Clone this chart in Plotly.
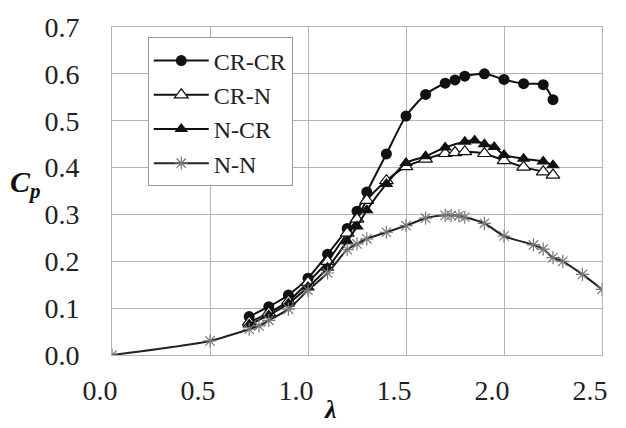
import plotly.graph_objects as go

# ---- data ----
crcr_x = [0.70, 0.80, 0.90, 1.00, 1.10, 1.20, 1.25, 1.30, 1.40, 1.50, 1.60, 1.70, 1.75, 1.80, 1.90, 2.00, 2.10, 2.20, 2.25]
crcr_y = [0.082, 0.103, 0.128, 0.164, 0.215, 0.270, 0.307, 0.348, 0.429, 0.510, 0.556, 0.580, 0.587, 0.595, 0.600, 0.588, 0.579, 0.577, 0.545]

crn_x = [0.70, 0.80, 0.90, 1.00, 1.10, 1.20, 1.25, 1.30, 1.40, 1.50, 1.60, 1.70, 1.75, 1.80, 1.90, 2.00, 2.10, 2.20, 2.25]
crn_y = [0.070, 0.090, 0.115, 0.155, 0.200, 0.260, 0.290, 0.330, 0.372, 0.402, 0.418, 0.430, 0.432, 0.434, 0.430, 0.415, 0.401, 0.391, 0.384]

ncr_x = [0.70, 0.80, 0.90, 1.00, 1.10, 1.20, 1.25, 1.30, 1.40, 1.50, 1.60, 1.70, 1.80, 1.85, 1.90, 1.95, 2.00, 2.10, 2.20, 2.25]
ncr_y = [0.065, 0.085, 0.110, 0.145, 0.186, 0.243, 0.274, 0.309, 0.365, 0.410, 0.424, 0.443, 0.455, 0.458, 0.450, 0.444, 0.427, 0.419, 0.413, 0.405]

nn_x = [0.00, 0.50, 0.70, 0.75, 0.80, 0.90, 1.00, 1.10, 1.20, 1.25, 1.30, 1.40, 1.50, 1.60, 1.70, 1.73, 1.77, 1.80, 1.90, 2.00, 2.15, 2.20, 2.25, 2.30, 2.40, 2.50]
nn_y = [0.000, 0.030, 0.055, 0.062, 0.074, 0.098, 0.138, 0.175, 0.225, 0.237, 0.248, 0.262, 0.276, 0.292, 0.298, 0.298, 0.297, 0.294, 0.281, 0.254, 0.235, 0.226, 0.208, 0.200, 0.172, 0.140]

x_ticks = [0.0, 0.5, 1.0, 1.5, 2.0, 2.5]
y_ticks = [0.0, 0.1, 0.2, 0.3, 0.4, 0.5, 0.6, 0.7]

FONT = "Liberation Serif, Times New Roman, Times, serif"
line_shape = dict(shape="spline", smoothing=0.7, width=2)

fig = go.Figure()
fig.add_trace(go.Scatter(x=crcr_x, y=crcr_y, name="CR-CR", mode="lines+markers",
                         line=dict(color="#111111", **line_shape),
                         marker=dict(symbol="circle", size=11, color="#111111")))
fig.add_trace(go.Scatter(x=crn_x, y=crn_y, name="CR-N", mode="lines+markers",
                         line=dict(color="#111111", **line_shape),
                         marker=dict(symbol="triangle-up", size=12, color="white",
                                     line=dict(color="#111111", width=1.2))))
fig.add_trace(go.Scatter(x=ncr_x, y=ncr_y, name="N-CR", mode="lines+markers",
                         line=dict(color="#111111", **line_shape),
                         marker=dict(symbol="triangle-up", size=12, color="#111111")))
fig.add_trace(go.Scatter(x=nn_x, y=nn_y, name="N-N", mode="lines+markers",
                         line=dict(color="#222222", **line_shape),
                         marker=dict(symbol="asterisk-open", size=11, color="#777777",
                                     line=dict(color="#777777", width=1.2))))

axis_common = dict(showgrid=True, gridcolor="#b4b4b4", gridwidth=1,
                   zeroline=False, showline=True, linecolor="#b4b4b4", linewidth=1,
                   ticks="", tickfont=dict(family=FONT, size=28, color="#222222"),
                   mirror=True, tickformat=".1f")

fig.update_layout(
    width=626, height=428,
    margin=dict(l=112, r=24, t=23, b=73),
    paper_bgcolor="white", plot_bgcolor="white",
    xaxis=dict(range=[0, 2.5], tickvals=x_ticks, ticklabelstandoff=10,
               ticklabelshift=-12, **axis_common),
    yaxis=dict(range=[0, 0.7], tickvals=y_ticks, ticklabelstandoff=26, **axis_common),
    showlegend=True,
    legend=dict(x=0.073, y=0.968, xanchor="left", yanchor="top",
                bgcolor="white", bordercolor="#999999", borderwidth=1,
                font=dict(family=FONT, size=24, color="#222222"),
                itemwidth=55, tracegroupgap=0, itemsizing="trace",
                entrywidth=112),
    font=dict(family=FONT),
)

fig.add_annotation(xref="paper", yref="paper", x=-0.14, y=0.52,
                   text="<b><i>C</i></b><sub><b><i>p</i></b></sub>", showarrow=False,
                   xanchor="right", yanchor="middle",
                   font=dict(family=FONT, size=30, color="#111111"))
fig.add_annotation(xref="paper", yref="paper", x=0.445, y=-0.166,
                   text="<b><i>λ</i></b>", showarrow=False,
                   xanchor="center", yanchor="middle",
                   font=dict(family=FONT, size=26, color="#111111"))

fig.write_html("out.html", config={"displayModeBar": False},
               post_script="document.body.style.margin='0';")
